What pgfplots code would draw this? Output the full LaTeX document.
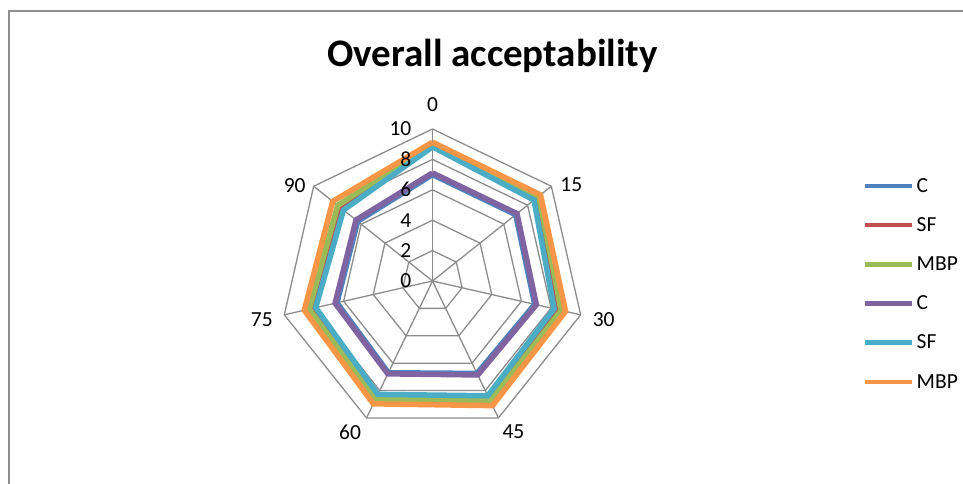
\documentclass[border=0pt]{standalone}
\usepackage{pgfplots}
\pgfplotsset{compat=1.18}
\usepgfplotslibrary{polar}
\usepackage{fontspec}
\setmainfont{Carlito}
\definecolor{cBlue}{HTML}{4F81BD}
\definecolor{cRed}{HTML}{C0504D}
\definecolor{cGreen}{HTML}{9BBB59}
\definecolor{cPurple}{HTML}{8064A2}
\definecolor{cTeal}{HTML}{4BACC6}
\definecolor{cOrange}{HTML}{F79646}
\definecolor{gridc}{HTML}{8C8C8C}
\definecolor{framec}{HTML}{8E8E8E}
\newcommand{\lbl}{\fontsize{21.5}{25}\selectfont}
\begin{document}
\begin{tikzpicture}
\useasboundingbox (0pt,0pt) rectangle (963pt,483pt);
\draw[framec, line width=2pt] (9pt,-10pt) rectangle (975pt,472pt);
\node[font=\fontsize{39}{44}\selectfont\bfseries] at (492.5pt,427pt) {Overall acceptability};
\begin{polaraxis}[
  at={(432.5pt,202pt)}, anchor=center,
  scale only axis, width=304pt, height=304pt,
  ymin=0, ymax=10, xmin=0, xmax=360,
  hide axis, clip=false,
  legend cell align=left,
  legend image code/.code={\draw[#1, line width=4.5pt] (0pt,0pt) -- (47pt,0pt);},
  legend style={draw=none, fill=none, inner sep=0pt, font=\lbl,
    at={(axis description cs:1.916,0.839)}, anchor=north west,
    row sep=23.8pt, column sep=2pt,
    nodes={inner sep=0pt}},
]
% grid heptagons
\addplot[gridc, line width=1.3pt, forget plot] coordinates {(90,2)(38.5714,2)(347.1429,2)(295.7143,2)(244.2857,2)(192.8571,2)(141.4286,2)(90,2)};
\addplot[gridc, line width=1.3pt, forget plot] coordinates {(90,4)(38.5714,4)(347.1429,4)(295.7143,4)(244.2857,4)(192.8571,4)(141.4286,4)(90,4)};
\addplot[gridc, line width=1.3pt, forget plot] coordinates {(90,6)(38.5714,6)(347.1429,6)(295.7143,6)(244.2857,6)(192.8571,6)(141.4286,6)(90,6)};
\addplot[gridc, line width=1.3pt, forget plot] coordinates {(90,8)(38.5714,8)(347.1429,8)(295.7143,8)(244.2857,8)(192.8571,8)(141.4286,8)(90,8)};
\addplot[gridc, line width=1.3pt, forget plot] coordinates {(90,10)(38.5714,10)(347.1429,10)(295.7143,10)(244.2857,10)(192.8571,10)(141.4286,10)(90,10)};
% spokes
\addplot[gridc, line width=1.3pt, forget plot] coordinates {(90,0)(90,10)};
\addplot[gridc, line width=1.3pt, forget plot] coordinates {(38.5714,0)(38.5714,10)};
\addplot[gridc, line width=1.3pt, forget plot] coordinates {(347.1429,0)(347.1429,10)};
\addplot[gridc, line width=1.3pt, forget plot] coordinates {(295.7143,0)(295.7143,10)};
\addplot[gridc, line width=1.3pt, forget plot] coordinates {(244.2857,0)(244.2857,10)};
\addplot[gridc, line width=1.3pt, forget plot] coordinates {(192.8571,0)(192.8571,10)};
\addplot[gridc, line width=1.3pt, forget plot] coordinates {(141.4286,0)(141.4286,10)};
% series
\addplot[cBlue, line width=5.5pt] coordinates {(90,7.0)(38.5714,7.0)(347.1429,6.9)(295.7143,6.75)(244.2857,6.7)(192.8571,6.45)(141.4286,6.3)(90,7.0)};
\addlegendentry{C}
\addplot[cRed, line width=5.5pt] coordinates {(90,8.9)(38.5714,8.7)(347.1429,8.3)(295.7143,8.5)(244.2857,8.35)(192.8571,7.95)(141.4286,7.6)(90,8.9)};
\addlegendentry{SF}
\addplot[cGreen, line width=5.5pt] coordinates {(90,9.0)(38.5714,8.95)(347.1429,8.69)(295.7143,8.75)(244.2857,8.62)(192.8571,8.32)(141.4286,7.98)(90,9.0)};
\addlegendentry{MBP}
\addplot[cPurple, line width=5.5pt] coordinates {(90,7.11)(38.5714,7.11)(347.1429,7.01)(295.7143,6.86)(244.2857,6.78)(192.8571,6.57)(141.4286,6.44)(90,7.11)};
\addlegendentry{C}
\addplot[cTeal, line width=5.5pt] coordinates {(90,8.83)(38.5714,8.54)(347.1429,8.21)(295.7143,8.38)(244.2857,8.28)(192.8571,7.88)(141.4286,7.49)(90,8.83)};
\addlegendentry{SF}
\addplot[cOrange, line width=5.5pt] coordinates {(90,9.13)(38.5714,9.09)(347.1429,8.98)(295.7143,9.1)(244.2857,8.97)(192.8571,8.65)(141.4286,8.4)(90,9.13)};
\addlegendentry{MBP}
% radial labels
\node[font=\lbl, anchor=east, inner sep=0pt, xshift=-21pt] at (axis cs:90,0) {0};
\node[font=\lbl, anchor=east, inner sep=0pt, xshift=-21pt] at (axis cs:90,2) {2};
\node[font=\lbl, anchor=east, inner sep=0pt, xshift=-21pt] at (axis cs:90,4) {4};
\node[font=\lbl, anchor=east, inner sep=0pt, xshift=-21pt] at (axis cs:90,6) {6};
\node[font=\lbl, anchor=east, inner sep=0pt, xshift=-21pt] at (axis cs:90,8) {8};
\node[font=\lbl, anchor=east, inner sep=0pt, xshift=-21pt] at (axis cs:90,10) {10};
% category labels
\node[font=\lbl, inner sep=0pt, yshift=24pt] at (axis cs:90,10) {0};
\node[font=\lbl, inner sep=0pt, xshift=20pt, yshift=2pt] at (axis cs:38.5714,10) {15};
\node[font=\lbl, inner sep=0pt, xshift=23pt, yshift=-4.5pt] at (axis cs:347.1429,10) {30};
\node[font=\lbl, inner sep=0pt, xshift=15pt, yshift=-14pt] at (axis cs:295.7143,10) {45};
\node[font=\lbl, inner sep=0pt, xshift=-16.5pt, yshift=-14pt] at (axis cs:244.2857,10) {60};
\node[font=\lbl, inner sep=0pt, xshift=-22.5pt, yshift=-5pt] at (axis cs:192.8571,10) {75};
\node[font=\lbl, inner sep=0pt, xshift=-19pt, yshift=1pt] at (axis cs:141.4286,10) {90};
\end{polaraxis}
\end{tikzpicture}
\end{document}
